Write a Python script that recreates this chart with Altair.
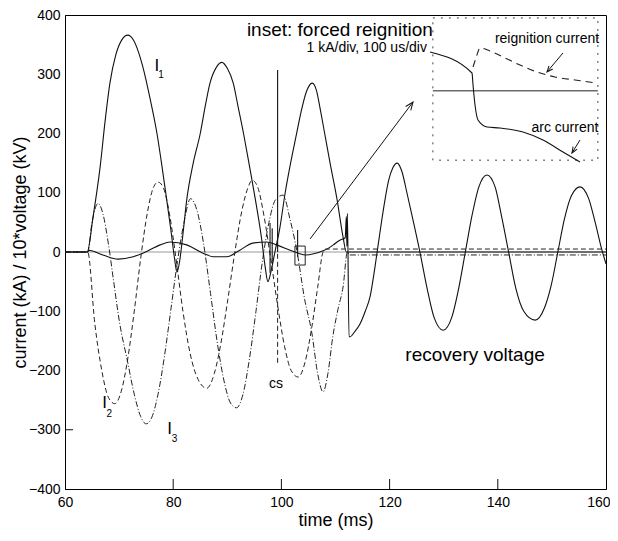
import math
import altair as alt
import pandas as pd

FONT = "Liberation Sans"
W, H = 541, 474

# ---------------- data ----------------
x_tick_values = [60, 80, 100, 120, 140, 160]
y_tick_values = [-400, -300, -200, -100, 0, 100, 200, 300, 400]
x_inner_ticks = [80, 100, 120, 140]
y_inner_ticks = [-300]
zero_level = [0]

# I1 (solid) current, kA
i1_t = [60, 64.1, 65.2, 66.5, 67.4, 68.3, 69.4, 70.5, 71.6, 72.7, 73.6, 74.4, 75.7, 77.0, 78.0, 78.8,
        79.6, 80.2, 80.7, 81.2, 81.8, 82.5, 83.7, 85.0, 86.0, 86.8, 88.0, 89.0, 90.0, 91.1, 92.0,
        93.0, 94.1, 95.2, 96.3, 97.0, 97.5, 98.1, 98.8, 99.7, 100.7, 101.7, 102.7, 103.6, 104.6,
        105.7, 106.5, 107.1, 108.0, 109.0, 110.3, 111.4, 112.0, 160]
i1_v = [0, 0, 60, 144, 220, 285, 333, 358, 366, 357, 337, 312, 260, 200, 140, 88,
        35, -8, -34, -15, 30, 88, 150, 200, 250, 285, 312, 320, 310, 285, 245,
        200, 145, 88, 25, -25, -50, -32, 0, 40, 100, 150, 195, 235, 270,
        285, 272, 245, 200, 150, 88, 25, 0, 0]

# I2 (dashed) current, kA
i2_t = [60, 64.2, 65.5, 66.8, 68.0, 69.2, 70.4, 71.6, 72.8, 74.0, 75.2, 76.3, 77.2, 78.2, 79.3,
        80.5, 81.8, 83.1, 84.6, 86.2, 87.6, 88.8, 90.1, 91.4, 92.7, 93.8, 94.6, 95.6, 96.8, 98.0,
        99.3, 100.6, 101.8, 103.1, 104.4, 105.6, 106.7, 107.7, 108.2, 160]
i2_v = [0, 0, -120, -200, -245, -256, -235, -180, -100, -10, 65, 108, 118, 108, 65,
        -10, -100, -170, -215, -230, -205, -155, -80, 0, 70, 108, 121, 110, 60, -10,
        -90, -160, -200, -211, -185, -128, -60, 0, 5, 5]

# I3 (dash-dot) current, kA
i3_t = [60, 64.2, 65.0, 66.1, 67.0, 68.0, 69.0, 70.1, 71.5, 72.8, 74.0, 75.0, 76.0, 77.2, 78.4,
        79.6, 80.8, 82.0, 83.2, 84.4, 85.6, 86.9, 88.3, 89.5, 90.6, 91.7, 92.9, 94.1, 95.3, 96.5,
        97.7, 98.9, 100.3, 101.6, 102.9, 104.3, 105.6, 106.7, 107.7, 108.6, 109.5, 110.5, 111.4,
        112.2, 112.5, 160]
i3_v = [0, 0, 50, 82, 65, 15, -50, -120, -182, -240, -278, -290, -280, -240, -175,
        -95, -15, 50, 90, 70, 15, -70, -162, -222, -255, -263, -240, -180, -100, -15,
        50, 88, 96, 55, 0, -80, -135, -205, -236, -205, -143, -95, -59,
        0, -5, -5]

# arc voltage and recovery voltage (x10 kV)
uv_t = [60, 64.2, 64.4, 67.0, 69.8, 72.6, 74.4, 77.6, 79.4, 82.5, 85.5, 87.4, 89.9, 92.3, 94.7,
        97.3, 99.1, 101.6, 103.1, 104.5, 106.0, 107.7, 108.8, 109.6, 110.8, 111.8, 112.0, 112.1,
        112.2, 112.5, 112.7, 113.5, 114.5, 115.5, 116.4, 117.3, 118.2, 119.0, 119.8, 120.6, 121.4,
        122.3, 123.2, 124.3, 125.6, 126.9, 128.2, 129.9, 131.5, 132.8, 134.0, 135.2, 136.5, 138.0,
        139.5, 140.7, 142.0, 143.3, 144.8, 146.9, 148.6, 149.9, 151.1, 152.3, 153.6, 155.2, 156.8,
        158.0, 159.2, 160.0]
uv_v = [0, 0, 3, -5, -12, -8, -2, 12, 17, 12, -2, -8, -8, 3, 15,
        17, 12, 3, -2, -5, -3, 2, 7, 12, 20, 24, 60, 10,
        65, -143, -143, -135, -122, -100, -75, -25, 32, 80, 120, 142, 150,
        135, 100, 55, 0, -60, -110, -132, -110, -60, 0, 60, 110, 130,
        110, 60, 0, -60, -100, -115, -95, -55, 0, 55, 95, 110, 90,
        50, 5, -20]

# vertical spikes
spike_t = [97.9, 98.3, 99.3, 103.0]
spike_lo = [-35, -20, 0, -8]
spike_hi = [49, 40, 307, 37]
cs_t = [99.3]
cs_lo = [-187]
cs_hi = [0]

# small marker box near the current zero
box_t = [102.5]
box_t2 = [104.4]
box_v = [-22]
box_v2 = [10]

# inset (drawn in the main axes' units)
inset_t, inset_t2, inset_v, inset_v2 = [128.0], [158.5], [155], [395]
inset_zero_t, inset_zero_t2, inset_zero_v = [128.0], [158.5], [272]
arc_t = [127.47, 135.23, 135.42, 135.79, 136.34, 138.0, 140.41, 144.66, 148.35, 152.05, 155.19]
arc_v = [337.6, 302.1, 281.9, 248.1, 222.8, 211.0, 209.3, 202.5, 189.0, 168.8, 151.9]
reig_t = [135.42, 135.97, 136.71, 138.56, 141.33, 144.10, 147.25, 150.57, 154.27, 158.34]
reig_v = [312.2, 327.4, 344.3, 339.2, 327.4, 315.6, 303.8, 295.4, 290.3, 285.2]

# arrows: tail -> head
arrow_t0 = [105.3, 152.05, 155.19]
arrow_v0 = [22, 335.9, 189.0]
arrow_t1 = [124.33, 149.09, 153.71]
arrow_v1 = [253.2, 303.8, 167.1]
arrow_kind = ["big", "small", "small"]

# text annotations
big_labels = ["recovery voltage", "inset: forced reignition"]
big_t = [135.8, 110.8]
big_v = [-174, 375]
mid_labels = ["cs", "reignition current", "arc current"]
mid_t = [99.0, 149.1, 152.4]
mid_v = [-223, 359, 209]
right_labels = ["1 kA/div, 100 us/div"]
right_t = [126.9]
right_v = [344]
cur_letters = ["I", "I", "I"]
cur_t = [77.0, 67.33, 79.35]
cur_v = [314, -255, -299]
cur_subs = ["1", "2", "3"]
sub_t = [77.75, 68.19, 80.24]
sub_v = [299, -273, -316]

# ---------------- chart ----------------
xs = alt.Scale(domain=[60, 160], nice=False, zero=False)
ys = alt.Scale(domain=[-400, 400], nice=False, zero=False)

x_axis = alt.Axis(title="time (ms)", values=x_tick_values, grid=False, ticks=False,
                  labelFontSize=14, titleFontSize=18, labelPadding=6, titlePadding=2,
                  labelFont=FONT, titleFont=FONT, labelColor="black", titleColor="black",
                  titleFontWeight="normal", domainColor="black", labelFlush=False,
                  labelAlign={"condition": {"test": "datum.value >= 160", "value": "right"},
                              "value": "center"},
                  labelOffset={"condition": {"test": "datum.value >= 160", "value": 4},
                               "value": 0})
y_axis = alt.Axis(title="current (kA) / 10*voltage (kV)", values=y_tick_values, grid=False,
                  ticks=False, labelFontSize=14, titleFontSize=18, labelPadding=5,
                  titleX=-45, titleY=H / 2, titleBaseline="middle", titleAlign="center",
                  titleAngle=270,
                  labelFont=FONT, titleFont=FONT, labelColor="black",
                  titleColor="black", titleFontWeight="normal", domainColor="black")


def X(f):
    return alt.X(f"{f}:Q", scale=xs, axis=x_axis)


def Y(f):
    return alt.Y(f"{f}:Q", scale=ys, axis=y_axis)


def line_df(t, v):
    return pd.DataFrame({"t": t, "v": v})


layers = []

# zero line
layers.append(alt.Chart(pd.DataFrame({"v": zero_level})).mark_rule(color="#9a9a9a", strokeWidth=1.2)
              .encode(y=Y("v")))

# curves
layers.append(alt.Chart(line_df(uv_t, uv_v)).mark_line(color="#111", strokeWidth=1.1, interpolate="monotone")
              .encode(x=X("t"), y=Y("v"), order="t:Q"))
layers.append(alt.Chart(line_df(i2_t, i2_v)).mark_line(color="#222", strokeWidth=1, strokeDash=[5, 3],
                                                       interpolate="monotone")
              .encode(x=X("t"), y=Y("v"), order="t:Q"))
layers.append(alt.Chart(line_df(i3_t, i3_v)).mark_line(color="#222", strokeWidth=1, strokeDash=[6, 2, 1, 2],
                                                       interpolate="monotone")
              .encode(x=X("t"), y=Y("v"), order="t:Q"))
layers.append(alt.Chart(line_df(i1_t, i1_v)).mark_line(color="#111", strokeWidth=1.1, interpolate="monotone")
              .encode(x=X("t"), y=Y("v"), order="t:Q"))

# spikes
layers.append(alt.Chart(pd.DataFrame({"t": spike_t, "lo": spike_lo, "hi": spike_hi}))
              .mark_rule(color="#111", strokeWidth=1.1)
              .encode(x=X("t"), y=Y("lo"), y2="hi:Q"))
layers.append(alt.Chart(pd.DataFrame({"t": cs_t, "lo": cs_lo, "hi": cs_hi}))
              .mark_rule(color="#222", strokeWidth=1, strokeDash=[5, 3])
              .encode(x=X("t"), y=Y("lo"), y2="hi:Q"))

# marker box
layers.append(alt.Chart(pd.DataFrame({"t": box_t, "t2": box_t2, "v": box_v, "v2": box_v2}))
              .mark_rect(fillOpacity=0, stroke="#222", strokeWidth=1)
              .encode(x=X("t"), x2="t2:Q", y=Y("v"), y2="v2:Q"))

# inset frame and zero line
layers.append(alt.Chart(pd.DataFrame({"t": inset_t, "t2": inset_t2, "v": inset_v, "v2": inset_v2}))
              .mark_rect(fillOpacity=0, stroke="#444", strokeWidth=1, strokeDash=[2, 6])
              .encode(x=X("t"), x2="t2:Q", y=Y("v"), y2="v2:Q"))
layers.append(alt.Chart(pd.DataFrame({"t": inset_zero_t, "t2": inset_zero_t2, "v": inset_zero_v}))
              .mark_rule(color="#222", strokeWidth=1)
              .encode(x=X("t"), x2="t2:Q", y=Y("v")))
layers.append(alt.Chart(line_df(arc_t, arc_v)).mark_line(color="#111", strokeWidth=1.1, interpolate="monotone")
              .encode(x=X("t"), y=Y("v"), order="t:Q"))
layers.append(alt.Chart(line_df(reig_t, reig_v)).mark_line(color="#222", strokeWidth=1.1, strokeDash=[7, 5],
                                                           interpolate="monotone")
              .encode(x=X("t"), y=Y("v"), order="t:Q"))

# arrows
sx = W / 100.0
sy = H / 800.0
angles = []
for t0, v0, t1, v1 in zip(arrow_t0, arrow_v0, arrow_t1, arrow_v1):
    dx = (t1 - t0) * sx
    dy = -(v1 - v0) * sy
    angles.append(math.degrees(math.atan2(dx, -dy)) % 360)
arrows = pd.DataFrame({"t0": arrow_t0, "v0": arrow_v0, "t1": arrow_t1, "v1": arrow_v1,
                       "ang": angles, "kind": arrow_kind})
layers.append(alt.Chart(arrows).mark_rule(color="#111", strokeWidth=1)
              .encode(x=X("t0"), y=Y("v0"), x2="t1:Q", y2="v1:Q"))
head_path = "M -0.8 2 L 0 0 L 0.8 2"
layers.append(alt.Chart(arrows).mark_point(shape=head_path, filled=False, color="#111", strokeWidth=1, opacity=1)
              .encode(x=X("t1"), y=Y("v1"), angle=alt.Angle("ang:Q", scale=None),
                      size=alt.Size("kind:N", scale=alt.Scale(domain=["big", "small"], range=[64, 36]),
                                    legend=None)))

# inner ticks
layers.append(alt.Chart(pd.DataFrame({"t": x_inner_ticks})).mark_rule(color="#111", strokeWidth=1)
              .encode(x=X("t"), y=alt.value(H), y2=alt.value(H - 10)))
layers.append(alt.Chart(pd.DataFrame({"v": y_inner_ticks})).mark_rule(color="#111", strokeWidth=1)
              .encode(y=Y("v"), x=alt.value(0), x2=alt.value(8)))


# texts
def text_layer(labels, t, v, size, align="center"):
    return (alt.Chart(pd.DataFrame({"label": labels, "t": t, "v": v}))
            .mark_text(font=FONT, fontSize=size, align=align, baseline="middle", color="black")
            .encode(x=X("t"), y=Y("v"), text="label:N"))


layers.append(text_layer(big_labels, big_t, big_v, 19))
layers.append(text_layer(mid_labels, mid_t, mid_v, 14))
layers.append(text_layer(right_labels, right_t, right_v, 14, align="right"))
layers.append(text_layer(cur_letters, cur_t, cur_v, 17))
layers.append(text_layer(cur_subs, sub_t, sub_v, 10))

chart = (alt.layer(*layers)
         .properties(width=W, height=H,
                     padding={"left": 57, "top": 7, "right": 4, "bottom": 44},
                     autosize=alt.AutoSizeParams(type="none"),
                     background="white")
         .configure_view(stroke="black", strokeWidth=1))

chart.save("out.html", embed_options={"renderer": "svg", "actions": False})
